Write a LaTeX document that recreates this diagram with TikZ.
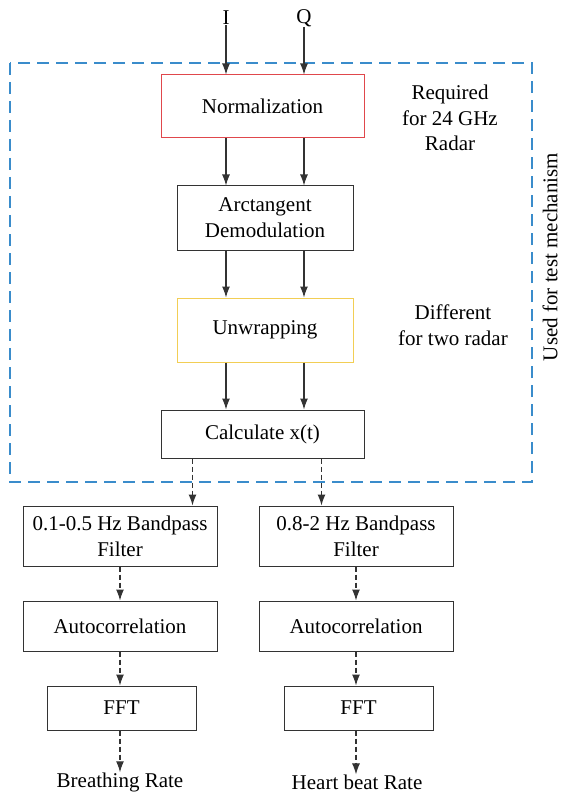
\documentclass[tikz,border=0pt]{standalone}
\usepackage{fontspec}
\setmainfont{Liberation Serif}
\newfontfamily\diagfont{Liberation Serif}
\usetikzlibrary{arrows.meta}

\definecolor{boxgray}{HTML}{333333}
\definecolor{normred}{HTML}{E0474C}
\definecolor{unwrapyellow}{HTML}{F2CE55}
\definecolor{testblue}{HTML}{3A8CCB}

\tikzstyle{process} = [rectangle, text centered, align=center, draw=boxgray, line width=1pt, inner sep=0pt, font=\diagfont\fontsize{21}{26}\selectfont]
\tikzstyle{note} = [align=center, inner sep=0pt, font=\diagfont\fontsize{21}{25.5}\selectfont]
\tikzstyle{flow} = [-{Latex[length=11pt,width=8pt]}, draw=boxgray, line width=1.1pt]
\tikzstyle{dflow} = [flow, dash pattern=on 5pt off 3pt]

\begin{document}
\begin{tikzpicture}[x=1pt, y=-1pt]
    \useasboundingbox (0,0) rectangle (563,794);
	% inputs
	\node (I) at (226, 18) [note] {I};
	\node (Q) at (304, 18) [note] {Q};
	% main chain
	\node (Norm) at (262.5, 106.5) [process, draw=normred, minimum width=203pt, minimum height=63pt] {Normalization};
	\node (Arctan) at (265, 218) [process, minimum width=176pt, minimum height=64pt] {Arctangent\\Demodulation};
	\node (Unwrap) at (265, 330) [process, draw=unwrapyellow, minimum width=176pt, minimum height=64pt] {Unwrapping};
	\node (Calc) at (262.5, 434) [process, minimum width=203pt, minimum height=48pt] {Calculate x(t)};
	% breathing / heart beat branches
	\node (FilterB) at (120, 536) [process, minimum width=194pt, minimum height=60pt] {0.1-0.5 Hz Bandpass\\Filter};
	\node (FilterH) at (356, 536) [process, minimum width=194pt, minimum height=60pt] {0.8-2 Hz Bandpass\\Filter};
	\node (AutoB) at (120, 626) [process, minimum width=194pt, minimum height=50pt] {Autocorrelation};
	\node (AutoH) at (356, 626) [process, minimum width=194pt, minimum height=50pt] {Autocorrelation};
	\node (FFTB) at (121.5, 708) [process, minimum width=149pt, minimum height=44pt] {FFT};
	\node (FFTH) at (358.5, 708) [process, minimum width=149pt, minimum height=44pt] {FFT};
	\node (Breath) at (120, 782) [note] {Breathing Rate};
	\node (Heart) at (357, 782) [note] {Heart beat Rate};
	% side notes
	\node (Required) at (450, 118) [note] {Required\\for 24 GHz\\Radar};
	\node (Different) at (453, 325) [note] {Different\\for two radar};
	\node (Test) at (550, 257) [note, rotate=90] {Used for test mechanism};
	\draw [testblue, line width=1.6pt, dash pattern=on 12pt off 7pt] (10, 63) rectangle (532, 482);
	% solid arrows
	\draw [flow] (I) -- (I |- Norm.north);
	\draw [flow] (Q) -- (Q |- Norm.north);
	\draw [flow] (Norm.south -| I) -- (Arctan.north -| I);
	\draw [flow] (Norm.south -| Q) -- (Arctan.north -| Q);
	\draw [flow] (Arctan.south -| I) -- (Unwrap.north -| I);
	\draw [flow] (Arctan.south -| Q) -- (Unwrap.north -| Q);
	\draw [flow] (Unwrap.south -| I) -- (Calc.north -| I);
	\draw [flow] (Unwrap.south -| Q) -- (Calc.north -| Q);
	% dashed arrows
	\draw [dflow] ([xshift=32pt]Calc.south west) -- ([xshift=32pt]Calc.south west |- FilterB.north);
	\draw [dflow] ([xshift=-43pt]Calc.south east) -- ([xshift=-43pt]Calc.south east |- FilterH.north);
	\draw [dflow] (FilterB) -- (AutoB);
	\draw [dflow] (FilterH) -- (AutoH);
	\draw [dflow] (AutoB.south) -- (AutoB.south |- FFTB.north);
	\draw [dflow] (AutoH.south) -- (AutoH.south |- FFTH.north);
	\draw [dflow] (FFTB.south -| AutoB) -- (Breath.north -| AutoB);
	\draw [dflow] (FFTH.south -| AutoH) -- (Heart.north -| AutoH);
\end{tikzpicture}
\end{document}
